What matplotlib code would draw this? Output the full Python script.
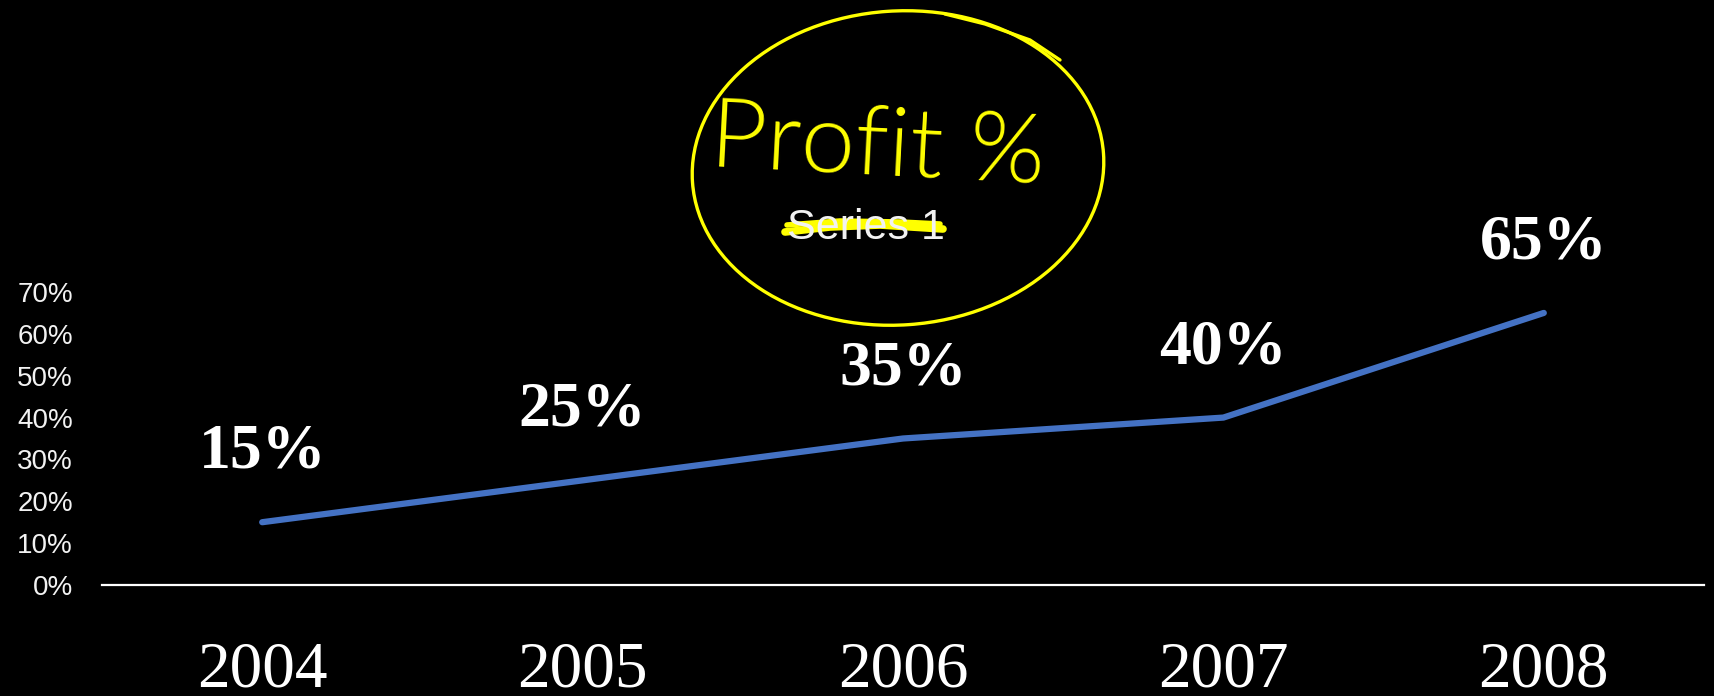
import numpy as np
import matplotlib.pyplot as plt
from matplotlib.patches import Ellipse
from matplotlib.ticker import PercentFormatter

YEARS = ["2004", "2005", "2006", "2007", "2008"]
PROFIT = [0.15, 0.25, 0.35, 0.40, 0.65]
Y_TICKS = [0.0, 0.1, 0.2, 0.3, 0.4, 0.5, 0.6, 0.7]
TITLE = "Series 1"
NOTE = "Profit %"

W, H = 1714, 696
BG = "black"
LINE_COLOR = "#4472C4"
INK = "#FFFF00"

fig = plt.figure(figsize=(W / 100, H / 100), dpi=100, facecolor=BG)

left, right, bottom, top = 102, 1704, 585, 292
ax = fig.add_axes([left / W, 1 - bottom / H, (right - left) / W, (bottom - top) / H])
ax.set_facecolor(BG)

x = np.arange(len(YEARS))
ax.plot(x, PROFIT, color=LINE_COLOR, lw=4.5, solid_capstyle="round",
        solid_joinstyle="round", clip_on=False)

for xi, v in zip(x, PROFIT):
    ax.annotate(f"{v:.0%}", (xi, v), xytext=(0, 50), textcoords="offset points",
                ha="center", va="center", color="white", fontsize=46,
                fontweight="bold", family="Liberation Serif", annotation_clip=False)

ax.set_xlim(-0.5, len(YEARS) - 0.5)
ax.set_ylim(0, 0.7)
ax.set_xticks(x)
ax.set_xticklabels(YEARS, family="Liberation Serif", fontsize=47, color="white")
ax.set_yticks(Y_TICKS)
ax.yaxis.set_major_formatter(PercentFormatter(1.0, decimals=0))
for lab in ax.get_yticklabels():
    lab.set_family("Liberation Sans")
    lab.set_fontsize(20)
    lab.set_color("#F2F2F2")
ax.tick_params(axis="x", length=0, pad=40)
ax.tick_params(axis="y", length=0, pad=21)

for side in ["left", "right", "top"]:
    ax.spines[side].set_visible(False)
ax.spines["bottom"].set_color("white")
ax.spines["bottom"].set_linewidth(1.6)

fig.text(866 / W, 1 - 228 / H, TITLE, ha="center", va="center",
         color="#F2F2F2", fontsize=31, family="Liberation Sans")

# hand-drawn yellow annotation on top, in pixel coordinates
ov = fig.add_axes([0, 0, 1, 1], facecolor="none")
ov.set_xlim(0, W)
ov.set_ylim(H, 0)
ov.axis("off")
ov.add_patch(Ellipse((898, 168), 412, 314, angle=-4, fill=False, ec=INK, lw=2.4))
ov.plot([945, 985, 1030, 1060], [14, 24, 40, 60], color=INK, lw=2.4,
        solid_capstyle="round")
ov.plot([785, 830, 880, 943], [232, 227, 225, 229], color=INK, lw=5.5,
        solid_capstyle="round")
ov.plot([787, 840, 900, 940], [225, 221, 222, 224], color=INK, lw=4,
        solid_capstyle="round")
ov.text(878, 148, NOTE, ha="center", va="center", color=INK, fontsize=70,
        family=["Lato", "DejaVu Sans"], fontweight=300, rotation=-3)

fig.savefig("out.png", dpi=100, facecolor=BG)
